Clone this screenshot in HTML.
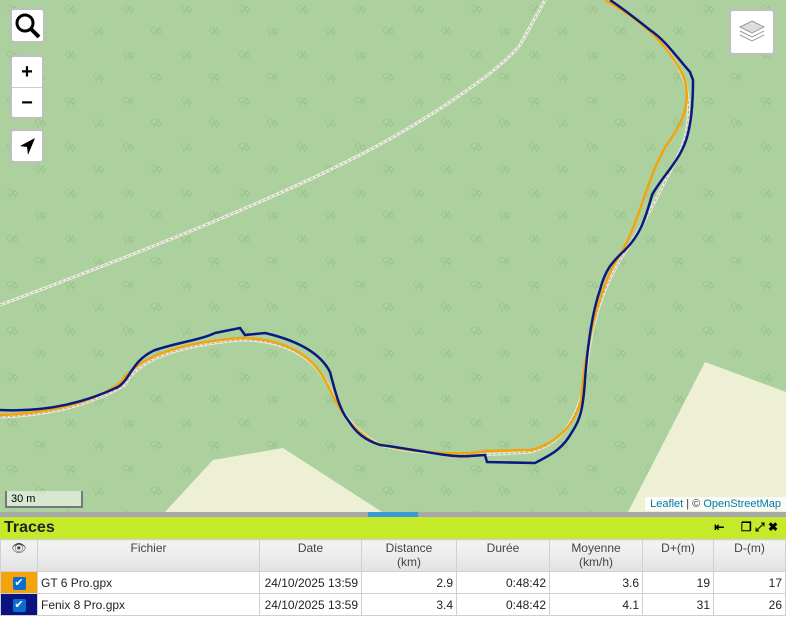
<!DOCTYPE html>
<html><head><meta charset="utf-8">
<style>
body{margin:0;width:786px;height:619px;overflow:hidden;font-family:"Liberation Sans",sans-serif;background:#fff;position:relative}
.map{position:absolute;left:0;top:0;width:786px;height:512px;background:#add19e;overflow:hidden}
.btn{position:absolute;background:#fff;border:2px solid rgba(0,0,0,0.25);border-radius:4px;box-sizing:border-box}
.bar{position:absolute;left:0;top:512px;width:786px;height:5px;background:#a8a8a8}
.hdr{position:absolute;left:0;top:517px;width:786px;height:22px;background:#c5ea2a}
table{position:absolute;left:0;top:539px;width:786px;border-collapse:collapse;font-size:12px;color:#222}
td,th{border:1px solid #d0d0d0;padding:0 3px;height:21px}
th{font-weight:normal;background:linear-gradient(#f3f3f3,#ececec 50%,#e2e2e2);color:#444;height:30px;vertical-align:top;line-height:14px;padding-top:1px}
td.n{text-align:right}
.cb{display:inline-block;width:13px;height:13px;background:#0a6ed1;border-radius:2px;color:#fff;font-size:11px;line-height:13px;text-align:center}
</style></head><body>
<div class="map">
<svg width="786" height="512" style="position:absolute;left:0;top:0">
<defs>
<pattern id="t" width="58" height="46" patternUnits="userSpaceOnUse">
<g fill="none" stroke="#98c189" stroke-width="0.8">
<circle cx="10" cy="8" r="2.5"/><path d="M10 10.5v4"/><path d="M15 6l-2.5 5h5z M15 11v3.5"/>
<circle cx="38" cy="30" r="2.5"/><path d="M38 32.5v4"/><path d="M43 28l-2.5 5h5z M43 33v3.5"/>
</g></pattern>
</defs>
<rect width="786" height="512" fill="url(#t)"/>
<polygon points="705,362 786,392 786,512 628,512" fill="#eef0d5"/>
<polygon points="213,460 283,448 382,512 165,512" fill="#eef0d5"/>
<path d="M0,305 C120,260 250,210 350,160 C430,120 500,70 520,45 L545,0" fill="none" stroke="#fff" stroke-width="3" opacity="0.7"/>
<path d="M0,305 C120,260 250,210 350,160 C430,120 500,70 520,45 L545,0" fill="none" stroke="#c8a8a0" stroke-width="1" stroke-dasharray="3,2"/>
<path d="M0,417 C60,415 100,400 125,385 C140,355 190,345 240,340 C290,340 315,360 328,385 C340,410 350,428 380,445 C420,455 470,457 530,452 C560,445 578,420 585,380 C590,330 600,290 625,252 C650,215 660,190 676,160 C692,130 692,95 680,70 C665,40 640,20 605,0" fill="none" stroke="#fff" stroke-width="3" opacity="0.6"/>
<path d="M0,417 C60,415 100,400 125,385 C140,355 190,345 240,340 C290,340 315,360 328,385 C340,410 350,428 380,445 C420,455 470,457 530,452 C560,445 578,420 585,380 C590,330 600,290 625,252 C650,215 660,190 676,160 C692,130 692,95 680,70 C665,40 640,20 605,0" fill="none" stroke="#d89a90" stroke-width="1" stroke-dasharray="3,2"/>
<path d="M0,415 C60,413 100,398 120,383 C140,353 190,342 240,338 C285,338 312,356 325,380 C338,405 345,425 375,443 C420,455 470,455 485,451 L530,450 C555,445 575,425 581,400 C585,350 598,290 618,258 C640,225 648,170 670,140 C688,115 690,95 683,75 C665,40 640,20 605,0" fill="none" stroke="#f2a40e" stroke-width="2.5"/>
<path d="M0,410 C40,412 80,405 118,387 C130,380 132,360 155,350 C180,342 200,340 215,333 L240,328 L245,335 L265,333 C295,340 320,352 330,372 C336,395 340,410 348,420 C356,433 365,440 380,445 C420,450 450,458 470,456 L485,455 L487,462 L535,463 C550,455 562,450 572,432 C580,420 583,410 585,380 C588,340 593,310 600,290 C605,270 612,262 625,250 C640,235 645,220 652,195 C660,180 675,165 682,150 C690,135 693,110 693,80 L690,72 C675,55 665,40 650,30 C640,22 625,10 610,0" fill="none" stroke="#0a1a80" stroke-width="2.5"/>
</svg>
<div class="btn" style="left:10px;top:8px;width:35px;height:35px"><svg width="31" height="31"><circle cx="13" cy="13" r="8" fill="none" stroke="#000" stroke-width="3"/><path d="M19 19l8 8" stroke="#000" stroke-width="4"/></svg></div>
<div class="btn" style="left:10px;top:55px;width:34px;height:64px"><div style="height:30px;border-bottom:1px solid #ccc;text-align:center;font:bold 20px/30px 'Liberation Sans';">+</div><div style="text-align:center;font:bold 20px/30px 'Liberation Sans';">−</div></div>
<div class="btn" style="left:10px;top:129px;width:34px;height:34px"><svg width="30" height="30"><path d="M23 7L8 15l7 1 1 8z" fill="#000"/></svg></div>
<div class="btn" style="left:729px;top:9px;width:46px;height:46px"><svg width="42" height="42"><path d="M21 10l12 6-12 6-12-6z" fill="#ddd" stroke="#999"/><path d="M9 20l12 6 12-6" fill="none" stroke="#999"/><path d="M9 24l12 6 12-6" fill="none" stroke="#999"/></svg></div>
<div style="position:absolute;left:5px;top:491px;width:78px;height:17px;border:2px solid #777;border-top:none;background:rgba(255,255,255,0.5);font-size:11px;line-height:17px;padding-left:4px;box-sizing:border-box">30 m</div>
<div style="position:absolute;right:0;top:497px;background:rgba(255,255,255,0.8);font-size:11px;padding:1px 5px;color:#333"><span style="color:#0078a8">Leaflet</span> | © <span style="color:#0078a8">OpenStreetMap</span></div>
</div>
<div class="bar"><div style="position:absolute;left:368px;width:50px;height:5px;background:#3a9ad9"></div></div>
<div class="hdr"><span style="position:absolute;left:4px;top:2px;font-weight:bold;font-size:16px;color:#222">Traces</span><span style="position:absolute;right:8px;top:3px;font-size:12px;font-weight:bold">⇤&nbsp;&nbsp;&nbsp;&nbsp;&nbsp;❐ ⤢ ✖</span></div>
<table>
<tr><th style="width:30px;text-align:center">👁</th><th style="width:215px">Fichier</th><th style="width:95px">Date</th><th style="width:88px">Distance<br>(km)</th><th style="width:86px">Durée</th><th style="width:86px">Moyenne<br>(km/h)</th><th style="width:64px">D+(m)</th><th>D-(m)</th></tr>
<tr><td style="background:#f5a20b;text-align:center"><span class="cb">✔</span></td><td>GT 6 Pro.gpx</td><td class="n">24/10/2025 13:59</td><td class="n">2.9</td><td class="n">0:48:42</td><td class="n">3.6</td><td class="n">19</td><td class="n">17</td></tr>
<tr><td style="background:#0a1480;text-align:center"><span class="cb">✔</span></td><td>Fenix 8 Pro.gpx</td><td class="n">24/10/2025 13:59</td><td class="n">3.4</td><td class="n">0:48:42</td><td class="n">4.1</td><td class="n">31</td><td class="n">26</td></tr>
</table>
</body></html>
